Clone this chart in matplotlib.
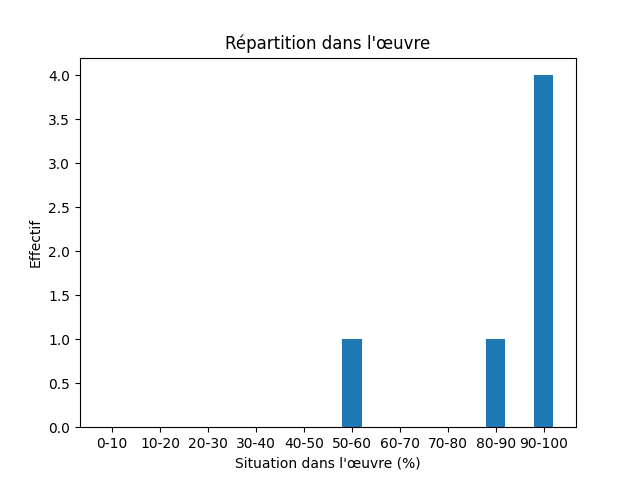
import matplotlib
matplotlib.use("Agg")
import matplotlib.pyplot as plt

categories = ["0-10", "10-20", "20-30", "30-40", "40-50",
              "50-60", "60-70", "70-80", "80-90", "90-100"]
counts = [0, 0, 0, 0, 0, 1, 0, 0, 1, 4]

fig, ax = plt.subplots(figsize=(6.4, 4.8), dpi=100)
ax.bar(categories, counts, width=0.4)
ax.set_title("Répartition dans l'œuvre")
ax.set_xlabel("Situation dans l'œuvre (%)")
ax.set_ylabel("Effectif")

fig.savefig("out.png")
